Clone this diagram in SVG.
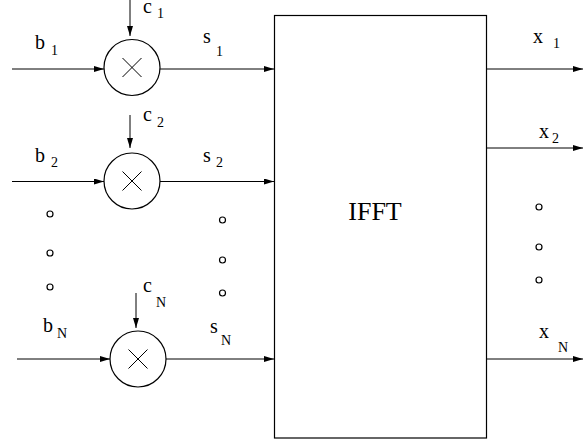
<svg xmlns="http://www.w3.org/2000/svg" width="583" height="443" viewBox="0 0 583 443">
<style>
.l{stroke:#000;stroke-width:1;fill:none}
.c{stroke:#000;stroke-width:1.2;fill:#fff}
.d{stroke:#000;stroke-width:1.2;fill:#fff}
.m{font-size:20px}
.s{font-size:14px}
</style>
<defs>
<marker id="ah" viewBox="0 0 10 6" refX="10" refY="3" markerWidth="10" markerHeight="6" markerUnits="userSpaceOnUse" orient="auto">
<path d="M0,0 L10,3 L0,6 Z" fill="#000"/>
</marker>
</defs>
<g id="connectors">
<line class="l" x1="12" y1="69" x2="104" y2="69" marker-end="url(#ah)"/>
<line class="l" x1="160" y1="69" x2="274" y2="69" marker-end="url(#ah)"/>
<line class="l" x1="130" y1="0" x2="130" y2="36" marker-end="url(#ah)"/>
<line class="l" x1="12" y1="181.5" x2="104" y2="181.5" marker-end="url(#ah)"/>
<line class="l" x1="160" y1="181.5" x2="274" y2="181.5" marker-end="url(#ah)"/>
<line class="l" x1="130" y1="115" x2="130" y2="148" marker-end="url(#ah)"/>
<line class="l" x1="17" y1="359" x2="110" y2="359" marker-end="url(#ah)"/>
<line class="l" x1="166" y1="359" x2="274" y2="359" marker-end="url(#ah)"/>
<line class="l" x1="136" y1="293" x2="136" y2="328" marker-end="url(#ah)"/>
<line class="l" x1="487" y1="69" x2="583" y2="69" marker-end="url(#ah)"/>
<line class="l" x1="487" y1="148" x2="583" y2="148" marker-end="url(#ah)"/>
<line class="l" x1="487" y1="359" x2="583" y2="359" marker-end="url(#ah)"/>
</g>
<g id="mult1">
<circle class="c" cx="132" cy="67.5" r="28"/>
<path class="l" d="M122.5,58 L141.5,77 M141.5,58 L122.5,77"/>
</g>
<g id="mult2">
<circle class="c" cx="132" cy="181" r="28"/>
<path class="l" d="M122.5,171.5 L141.5,190.5 M141.5,171.5 L122.5,190.5"/>
</g>
<g id="multN">
<circle class="c" cx="138" cy="359" r="28"/>
<path class="l" d="M128.5,349.5 L147.5,368.5 M147.5,349.5 L128.5,368.5"/>
</g>
<g id="ifft">
<rect x="274.5" y="15.5" width="212" height="422.5" fill="#fff" stroke="#000" stroke-width="1.2"/>
<text x="375" y="220" font-size="26" text-anchor="middle" font-family="'Liberation Serif', 'DejaVu Serif', serif" fill="#000">IFFT</text>
</g>
<g id="dots">
<circle class="d" cx="50" cy="214" r="3"/>
<circle class="d" cx="50" cy="253" r="3"/>
<circle class="d" cx="50" cy="287" r="3"/>
<circle class="d" cx="222.5" cy="220" r="3"/>
<circle class="d" cx="222.5" cy="260" r="3"/>
<circle class="d" cx="222.5" cy="293" r="3"/>
<circle class="d" cx="539" cy="207" r="3"/>
<circle class="d" cx="539" cy="247" r="3"/>
<circle class="d" cx="539" cy="280" r="3"/>
</g>
<g id="labels" font-family="'Liberation Serif', 'DejaVu Serif', serif" fill="#000">
<text class="m" x="35" y="49">b</text><text class="s" x="51" y="55">1</text>
<text class="m" x="143" y="13">c</text><text class="s" x="157" y="18">1</text>
<text class="m" x="203" y="43">s</text><text class="s" x="216" y="56">1</text>
<text class="m" x="35" y="162">b</text><text class="s" x="51" y="167">2</text>
<text class="m" x="143" y="121">c</text><text class="s" x="157" y="127">2</text>
<text class="m" x="203" y="162">s</text><text class="s" x="216" y="167">2</text>
<text class="m" x="43" y="332">b</text><text class="s" x="57" y="338">N</text>
<text class="m" x="143" y="292">c</text><text class="s" x="156" y="307">N</text>
<text class="m" x="210" y="333">s</text><text class="s" x="221" y="345">N</text>
<text class="m" x="533" y="43">x</text><text class="s" x="553" y="48">1</text>
<text class="m" x="539" y="138">x</text><text class="s" x="552" y="143">2</text>
<text class="m" x="539" y="338">x</text><text class="s" x="558" y="352">N</text>
</g>
</svg>
